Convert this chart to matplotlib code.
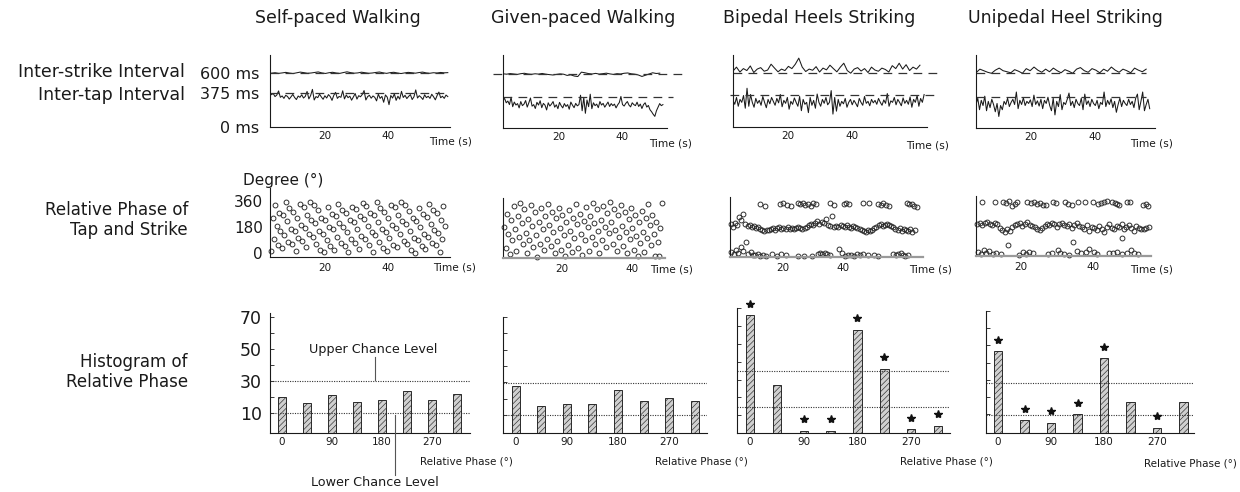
import numpy as np
import matplotlib
matplotlib.use("Agg")
import matplotlib.pyplot as plt
from matplotlib.transforms import offset_copy
from matplotlib.lines import Line2D

plt.rcParams['font.family'] = ['DejaVu Sans']
plt.rcParams['hatch.linewidth'] = 0.45

# ---------------- data ----------------
titles = ["Self-paced Walking", "Given-paced Walking", "Bipedal Heels Striking", "Unipedal Heel Striking"]
row_labels = ["Inter-strike Interval", "Inter-tap Interval", "Relative Phase of\nTap and Strike", "Histogram of\nRelative Phase"]
interval_refs = [600, 375]
interval_tick_labels = ["0 ms", "375 ms", "600 ms"]
phase_tick_labels = ["0", "180", "360"]
hist_bins = [0, 45, 90, 135, 180, 225, 270, 315]
hist_tick_labels = ["0", "90", "180", "270"]

# inter-strike / inter-tap intervals (ms)
strike1 = [598, 603, 596, 601, 607, 599, 594, 602, 610, 604, 597, 600, 606, 612, 601, 595, 603, 608, 600, 596,
           605, 613, 604, 598, 601, 609, 603, 597, 600, 606, 611, 602, 596, 604, 608, 600, 594, 601, 607, 603,
           598, 605, 610, 601, 597, 603, 600, 606, 602, 604]
tap1 = [360, 372, 338, 355, 401, 330, 345, 318, 352, 340, 310, 336, 362, 328, 305, 344, 330, 358, 322, 340,
        395, 312, 350, 418, 300, 338, 326, 365, 334, 308, 347, 322, 360, 338, 296, 352, 385, 318, 340, 330,
        402, 312, 356, 326, 342, 298, 334, 372, 310, 348, 336, 362, 405, 300, 338, 352, 320, 345, 330, 290,
        365, 318, 340, 275, 356, 332, 248, 350, 322, 368, 296, 342, 310, 396, 328, 352, 316, 340, 360, 305,
        336, 412, 322, 348, 330, 306, 358, 326, 342, 318, 364, 336, 302, 350, 388, 325, 342, 318, 355, 338]
strike2 = [602, 598, 604, 600, 596, 603, 607, 600, 597, 602, 599, 605, 598, 594, 590, 596, 601, 598, 586, 592,
           580, 575, 618, 612, 604, 600, 606, 599, 603, 608, 601, 596, 603, 600, 607, 610, 602, 598, 590, 576,
           588, 600, 612, 605, 608]
tap2 = [345, 360, 318, 335, 300, 372, 280, 325, 296, 310, 268, 330, 290, 305, 340, 276, 318, 365, 285, 300,
        262, 322, 296, 338, 270, 312, 295, 248, 318, 286, 305, 330, 275, 298, 260, 322, 290, 268, 310, 282,
        300, 255, 325, 295, 270, 312, 288, 300, 392, 240, 370, 215, 345, 280, 402, 260, 318, 290, 305, 270,
        330, 296, 312, 275, 300, 325, 282, 310, 290, 305, 268, 298, 320, 380, 300, 286, 312, 330, 295, 278,
        318, 300, 290, 324, 282, 305, 262, 300, 318, 276, 292, 250, 230, 205, 185, 240, 275, 310, 290, 300]
strike3 = [620, 660, 610, 645, 625, 672, 605, 640, 655, 618, 630, 690, 650, 612, 640, 625, 668, 645, 690, 752,
           660, 615, 640, 628, 665, 610, 650, 632, 680, 645, 612, 660, 700, 625, 598, 640, 655, 620, 645, 605,
           660, 630, 618, 650, 636, 610, 675, 645, 700, 640, 685, 625, 660, 640, 680]
tap3 = [320, 280, 350, 260, 330, 300, 370, 240, 444, 260, 380, 300, 250, 340, 290, 320, 270, 360, 300, 245,
        330, 285, 350, 310, 270, 340, 295, 380, 255, 320, 290, 350, 230, 310, 280, 345, 300, 260, 360, 215,
        330, 280, 300, 195, 350, 270, 320, 240, 385, 300, 260, 330, 290, 350, 275, 300, 420, 180, 350, 210,
        330, 260, 310, 285, 340, 250, 300, 330, 275, 320, 290, 255, 340, 300, 270, 360, 290, 310, 265, 330,
        295, 320, 280, 340, 300, 270, 325, 290, 390, 260, 315, 300, 350, 275, 330, 300, 265, 345, 290, 320,
        280, 355, 250, 330, 300, 370, 260, 340, 300, 380]
strike4 = [605, 640, 625, 610, 600, 630, 650, 625, 615, 605, 635, 620, 600, 645, 625, 660, 630, 610, 640, 615,
           650, 625, 605, 635, 620, 600, 640, 655, 625, 610, 645, 630, 605, 640, 620, 660, 630, 610, 640, 625,
           605, 650, 630, 615, 640]
tap4 = [300, 360, 250, 340, 290, 380, 240, 330, 270, 350, 300, 230, 310, 185, 290, 250, 330, 300, 360, 280,
        320, 350, 300, 420, 260, 340, 300, 365, 290, 330, 310, 345, 280, 390, 300, 335, 285, 350, 260, 340,
        310, 370, 290, 240, 360, 200, 330, 280, 395, 250, 320, 300, 350, 410, 290, 330, 270, 350, 310, 290,
        360, 250, 400, 300, 335, 280, 350, 310, 290, 340, 260, 320, 300, 420, 280, 340, 300, 355, 270, 330,
        225, 300, 360, 280, 340, 310, 290, 350, 300, 330, 270, 360, 400, 250, 330, 420, 240, 300, 350, 260]
# time spans (s) of the interval series: (start, end) for strike and tap
strike_span = [(3.0, 59.0), (2.2, 52.0), (2.8, 61.2), (2.9, 55.9)]
tap_span = [(3.0, 59.0), (2.2, 53.0), (2.8, 62.5), (2.9, 57.0)]

# relative phase (deg)
phase1 = [12, 238, 96, 328, 186, 58, 277, 148, 33, 263, 122, 352, 218, 78, 308, 166,
          63, 282, 153, 12, 243, 102, 333, 192, 82, 313, 171, 44, 262, 133, 352, 224,
          113, 332, 204, 61, 293, 151, 23, 242, 131, 4, 228, 87, 318, 176, 48, 266,
          163, 22, 253, 112, 337, 208, 67, 298, 182, 48, 276, 141, 6, 228, 96, 317,
          213, 70, 302, 163, 28, 256, 118, 343, 232, 98, 324, 188, 57, 278, 146, 4,
          263, 122, 352, 211, 78, 307, 168, 32, 282, 147, 13, 238, 102, 328, 193, 53,
          313, 172, 42, 262, 128, 352, 217, 84, 332, 198, 61, 287, 153, 18, 243, 106,
          3, 222, 88, 312, 178, 47, 268, 133, 28, 248, 113, 338, 202, 72, 293, 158,
          52, 277, 138, 4, 228, 93, 322, 183]
phase1_span = (3.0, 58.0)
phase2 = [198, 62, 283, 152, 18, 243, 108, 335, 183, 41, 268, 128, 355, 222, 87, 312,
          157, 24, 246, 112, 338, 203, 63, 292, 142, 3, 231, 88, 318, 186, 47, 268,
          118, 348, 208, 72, 297, 162, 28, 253, 103, 322, 193, 48, 278, 147, 8, 232,
          78, 307, 168, 33, 258, 122, 350, 213, 62, 283, 152, 12, 237, 108, 327, 198,
          38, 268, 128, 352, 222, 83, 313, 172, 23, 243, 112, 333, 197, 67, 288, 158,
          358, 228, 88, 317, 178, 42, 272, 133, 342, 203, 72, 292, 163, 23, 248, 118,
          318, 187, 48, 278, 138, 7, 232, 93, 302, 162, 32, 253, 122, 347, 208, 78,
          278, 148, 8, 232, 97, 5, 190, 352]
phase2_span = (3.5, 48.5)

phase3_mid = [210, 196, 222, 205, 262, 238, 280, 215, 200, 206, 192, 198, 185, 190, 178, 172, 165, 176, 170, 182,
              188, 176, 184, 190, 180, 186, 178, 192, 183, 188, 180, 185, 190, 184, 178, 186, 195, 205, 214, 208,
              222, 230, 212, 226, 218, 248, 205, 198, 267, 190, 202, 194, 208, 198, 192, 204, 196, 188, 200, 194,
              186, 178, 172, 166, 160, 170, 165, 176, 185, 196, 205, 212, 200, 208, 215, 205, 198, 190, 182, 175,
              188, 168, 178, 172, 165, 180, 162, 170]
phase3_mid_span = (2.8, 63.5)
time3_top = [12.5, 14.0, 19.0, 20.2, 21.5, 22.8, 25.0, 25.8, 26.6, 27.5, 28.3, 29.2, 30.0, 31.0, 35.5, 36.8,
             40.2, 41.0, 41.8, 46.5, 48.6, 51.5, 52.4, 53.2, 54.0, 55.0, 61.0, 61.8, 62.6, 63.4, 64.2]
phase3_top = [345, 330, 348, 352, 340, 332, 350, 344, 352, 340, 348, 336, 350, 345, 352, 338,
              344, 352, 348, 354, 350, 346, 338, 350, 342, 332, 350, 344, 348, 336, 326]
time3_low = [3.0, 3.8, 4.6, 5.4, 6.2, 7.0, 7.8, 8.6, 9.4, 10.2, 11.0, 11.8, 12.6, 13.4, 14.5, 16.5, 18.0, 19.5,
             21.0, 25.0, 27.0, 29.5, 31.5, 32.3, 33.1, 33.9, 34.7, 35.5, 38.5, 39.5, 40.5, 41.5, 42.5, 43.5,
             44.5, 45.5, 46.5, 48.0, 50.0, 51.5, 56.5, 57.3, 58.1, 58.9, 59.7, 60.5, 61.5]
phase3_low = [25, 10, 40, 18, 60, 30, 95, 12, 28, 8, 5, 15, 2, 8, 0, 12, 3, 10,
              5, 2, 0, 3, 15, 18, 12, 20, 16, 8, 45, 22, 0, 5, 8, 2,
              10, 4, 14, 8, 6, 2, 15, 5, 12, 18, 8, 2, 4]

phase4_mid = [205, 212, 198, 208, 215, 202, 195, 210, 200, 178, 165, 150, 172, 160, 185, 195, 200, 208, 192, 205,
              215, 198, 188, 180, 172, 165, 178, 190, 205, 196, 210, 200, 185, 206, 212, 198, 190, 202, 175, 196,
              210, 188, 180, 170, 195, 160, 182, 175, 165, 190, 172, 150, 185, 200, 178, 168, 192, 180, 205, 170,
              185, 195, 175, 160, 188, 178, 170, 172, 176, 180]
phase4_mid_span = (8.0, 55.5)
time4_top = [9.2, 12.9, 15.1, 16.0, 16.8, 17.5, 18.3, 18.9, 21.7, 22.8, 23.6, 24.4, 25.2, 26.1, 27.0, 29.0, 29.9,
             32.3, 33.0, 34.1, 35.9, 37.9, 40.1, 41.5, 42.3, 43.2, 43.9, 45.3, 46.0, 46.8, 47.3, 49.5, 50.4,
             54.0, 54.6, 55.2]
phase4_top = [350, 345, 348, 340, 352, 322, 335, 345, 346, 340, 348, 336, 342, 330, 325, 350, 342,
              346, 336, 325, 345, 350, 348, 332, 338, 346, 352, 345, 340, 335, 330, 346, 350,
              328, 335, 322]
time4_low = [8.2, 9.0, 9.8, 10.5, 11.3, 12.2, 13.2, 14.5, 19.5, 20.5, 21.4, 22.3, 23.3, 27.5, 28.8, 30.2, 31.0,
             32.0, 33.5, 35.6, 36.8, 38.0, 39.0, 40.2, 41.1, 44.4, 45.6, 46.8, 48.0, 49.5, 50.6, 51.5, 52.6,
             16.5, 34.6, 48.0]
phase4_low = [20, 5, 30, 12, 25, 8, 15, 4, 2, 18, 6, 22, 10, 8, 12, 30, 14,
              5, 2, 25, 12, 18, 40, 20, 8, 10, 16, 22, 6, 14, 35, 12, 4,
              67, 82, 111]

# histograms of relative phase (counts)
hist1 = [20, 16, 21, 17, 18, 24, 18, 22]
hist2 = [28, 15.5, 16.5, 16.5, 25.5, 18.5, 20.5, 18.5]
hist3 = [66, 27, 1, 1, 58, 36, 2, 4]
hist4 = [46.5, 6.5, 5, 10, 42.5, 17, 2, 17]
chance_upper = [30, 29.5, 35, 28.5]
chance_lower = [10, 10, 14.5, 9.5]
signif3 = [0, 2, 3, 4, 5, 6, 7]
signif4 = [0, 1, 2, 3, 4, 6]

# ---------------- figure ----------------
W, H = 1240, 492
fig = plt.figure(figsize=(W / 100, H / 100), dpi=100)
INK = "#1a1a1a"


def px_axes(l, t, r, b):
    ax = fig.add_axes([l / W, 1 - b / H, (r - l) / W, (b - t) / H])
    ax.patch.set_alpha(0)
    for s in ["top", "right"]:
        ax.spines[s].set_visible(False)
    for s in ["left", "bottom"]:
        ax.spines[s].set_linewidth(0.8)
        ax.spines[s].set_color(INK)
    return ax


def ftext(x, y, s, **kw):
    fig.text(x / W, 1 - y / H, s, color=INK, **kw)


def fline(x0, y0, x1, y1, **kw):
    fig.add_artist(Line2D([x0 / W, x1 / W], [1 - y0 / H, 1 - y1 / H], transform=fig.transFigure, **kw))


# titles and row labels
for x, t in zip([338, 583, 819, 1065], titles):
    ftext(x, 18, t, ha="center", va="center", fontsize=12.5)
ftext(185, 72, row_labels[0], ha="right", va="center", fontsize=12.5)
ftext(185, 95, row_labels[1], ha="right", va="center", fontsize=12.5)
ftext(188, 220, row_labels[2], ha="right", va="center", fontsize=12, linespacing=1.15)
ftext(188, 372, row_labels[3], ha="right", va="center", fontsize=12, linespacing=1.15)
ftext(283, 180, "Degree (°)", ha="center", va="center", fontsize=11)

# ---- row 1: intervals ----
row1_box = [(270, 55, 450, 127), (503, 55, 667, 128), (733, 55, 927, 127), (976, 55, 1155, 128)]
row1_xlim = [(2.54, 59.7), (2.2, 54.3), (2.8, 63.4), (2.9, 58.65)]
row1_ylim = [(0, 800), (71, 786), (48, 784), (74, 776)]
ref600_ext = [(2.54, 59.7), (-0.97, 59.4), (2.8, 66.9), (2.9, 56.0)]
ref375_ext = [(2.54, 59.7), (2.2, 56.2), (1.9, 66.9), (2.9, 56.0)]
row1_time_lbl = [(451, 142), (671, 144), (928, 146), (1152, 144)]
strikes = [strike1, strike2, strike3, strike4]
taps = [tap1, tap2, tap3, tap4]
for i in range(4):
    ax = px_axes(*row1_box[i])
    ax.set_xlim(*row1_xlim[i])
    ax.set_ylim(*row1_ylim[i])
    s0, s1 = strike_span[i]
    t0, t1 = tap_span[i]
    ax.plot(np.linspace(s0, s1, len(strikes[i])), strikes[i], color=INK, lw=0.75)
    ax.plot(np.linspace(t0, t1, len(taps[i])), taps[i], color=INK, lw=0.75)
    ax.plot(ref600_ext[i], [interval_refs[0]] * 2, color="#333333", lw=0.9, ls=(0, (7, 5)), clip_on=False)
    ax.plot(ref375_ext[i], [interval_refs[1]] * 2, color="#333333", lw=0.9, ls=(0, (7, 5)), clip_on=False)
    ax.set_xticks([20, 40])
    ax.tick_params(axis="x", length=0, pad=3, labelsize=7.5, colors=INK)
    if i == 0:
        ax.set_yticks([0, 375, 600])
        ax.set_yticklabels(interval_tick_labels)
        ax.tick_params(axis="y", length=0, pad=8, labelsize=11.5, colors=INK)
    else:
        ax.set_yticks([])
    ftext(*row1_time_lbl[i], "Time (s)", ha="center", va="center", fontsize=7.6)

# ---- row 2: relative phase ----
row2_box = [(270, 188, 450, 257), (503, 198, 665, 258), (730, 197, 923, 257), (976, 196, 1151, 256)]
row2_xlim = [(2.54, 59.7), (3.1, 49.5), (2.6, 66.3), (7.6, 56.1)]
row2_ylim = [(-27, 446), (-6.5, 386), (-7, 393), (-6.5, 386)]
row2_time_lbl = [(455, 268), (672, 270), (931, 269), (1152, 270)]
mk = dict(ls="none", marker="o", ms=3.5, mfc="none", mec="#222222", mew=0.65, clip_on=False)
for i in range(4):
    ax = px_axes(*row2_box[i])
    ax.set_xlim(*row2_xlim[i])
    ax.set_ylim(*row2_ylim[i])
    if i == 0:
        ax.plot(np.linspace(*phase1_span, len(phase1)), phase1, **mk)
    elif i == 1:
        ax.plot(np.linspace(*phase2_span, len(phase2)), phase2, **mk)
    elif i == 2:
        ax.plot(np.linspace(*phase3_mid_span, len(phase3_mid)), phase3_mid, **mk)
        ax.plot(time3_top, phase3_top, **mk)
        ax.plot(time3_low, phase3_low, **mk)
    else:
        ax.plot(np.linspace(*phase4_mid_span, len(phase4_mid)), phase4_mid, **mk)
        ax.plot(time4_top, phase4_top, **mk)
        ax.plot(time4_low, phase4_low, **mk)
    ax.set_xticks([20, 40])
    ax.tick_params(axis="x", length=0, pad=4.5, labelsize=7.5, colors=INK)
    if i == 0:
        ax.set_yticks([0, 180, 360])
        ax.set_yticklabels(phase_tick_labels)
        ax.tick_params(axis="y", length=0, pad=5, labelsize=11, colors=INK)
    else:
        ax.set_yticks([])
        ax.spines["bottom"].set_color("#9a9a9a")
        ax.spines["bottom"].set_linewidth(1.6)
    ftext(*row2_time_lbl[i], "Time (s)", ha="center", va="center", fontsize=7.6)

# ---- row 3: histograms ----
row3_box = [(270, 313, 470, 433), (503, 317, 707, 433), (737, 308, 950, 433), (986, 311, 1194, 433)]
row3_xlim = [(-21.6, 338.4), (-22, 336), (-21.8, 335), (-20.6, 333)]
row3_ylim = [(-2.5, 72.5), (-1, 70), (0, 70.2), (-0.8, 69)]
row3_bar_w = [15, 14, 14, 14]
relphase_lbl = [(466, 462), (701, 462), (946, 462), (1190, 463)]
hists = [hist1, hist2, hist3, hist4]
signifs = [[], [], signif3, signif4]
for i in range(4):
    ax = px_axes(*row3_box[i])
    ax.set_xlim(*row3_xlim[i])
    y0, y1 = row3_ylim[i]
    ax.set_ylim(y0, y1)
    heights = [v - y0 for v in hists[i]]
    ax.bar(hist_bins, heights, bottom=y0, width=row3_bar_w[i], facecolor="#d0d0d0",
           edgecolor="#2a2a2a", linewidth=0.7, hatch="//////")
    ax.axhline(chance_upper[i], color="#333333", lw=0.8, ls=(0, (1, 1.2)))
    ax.axhline(chance_lower[i], color="#333333", lw=0.8, ls=(0, (1, 1.2)))
    star_tr = offset_copy(ax.transData, fig=fig, x=0, y=8.5, units="points")
    for k in signifs[i]:
        ax.plot(hist_bins[k], hists[i][k], marker="*", ms=6, color="#111111", ls="none",
                transform=star_tr, clip_on=False)
    ax.set_xticks([0, 90, 180, 270])
    ax.set_xticklabels(hist_tick_labels)
    ax.tick_params(axis="x", length=0, pad=3, labelsize=7.5, colors=INK)
    ax.set_yticks([10, 20, 30, 40, 50, 60, 70])
    if i == 0:
        ax.set_yticklabels(["10", "", "30", "", "50", "", "70"])
        ax.tick_params(axis="y", direction="in", length=3, width=0.6, pad=6, labelsize=12.5, colors=INK)
    else:
        ax.set_yticklabels([])
        ax.tick_params(axis="y", direction="in", length=3, width=0.6, colors=INK)
    ftext(*relphase_lbl[i], "Relative Phase (°)", ha="center", va="center", fontsize=7.5)

# chance level annotations
ftext(373, 350, "Upper Chance Level", ha="center", va="center", fontsize=9.2)
fline(375, 357, 375, 380, color="#555555", lw=0.8)
ftext(375, 483, "Lower Chance Level", ha="center", va="center", fontsize=9.2)
fline(395, 415, 395, 475, color="#555555", lw=0.8)

fig.savefig("out.png", dpi=100)
